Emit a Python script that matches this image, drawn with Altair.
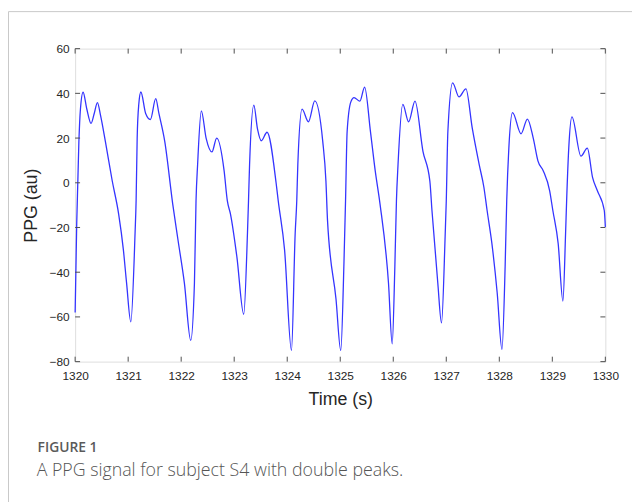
import altair as alt
import pandas as pd

# PPG signal (time in s, amplitude in au)
time_s = [
    1320.00, 1320.03, 1320.07, 1320.10, 1320.15, 1320.22, 1320.30, 1320.36, 1320.42, 1320.48,
    1320.57, 1320.70, 1320.82, 1320.91, 1320.97, 1321.05, 1321.13, 1321.15, 1321.17, 1321.20,
    1321.24, 1321.33, 1321.42, 1321.52, 1321.58, 1321.69, 1321.84, 1321.94, 1322.06, 1322.18,
    1322.25, 1322.28, 1322.31, 1322.38, 1322.47, 1322.58, 1322.67, 1322.81, 1322.87, 1322.93,
    1323.05, 1323.18, 1323.25, 1323.27, 1323.29, 1323.37, 1323.44, 1323.51, 1323.62, 1323.79,
    1323.83, 1323.95, 1324.08, 1324.15, 1324.18, 1324.20, 1324.28, 1324.40, 1324.52, 1324.67,
    1324.73, 1324.76, 1324.92, 1325.01, 1325.07, 1325.10, 1325.13, 1325.20, 1325.26, 1325.37,
    1325.46, 1325.57, 1325.66, 1325.75, 1325.91, 1325.98, 1326.03, 1326.06, 1326.09, 1326.18,
    1326.29, 1326.41, 1326.56, 1326.69, 1326.73, 1326.84, 1326.91, 1326.98, 1327.00, 1327.03,
    1327.12, 1327.24, 1327.37, 1327.49, 1327.62, 1327.71, 1327.77, 1327.86, 1327.96, 1328.05,
    1328.11, 1328.14, 1328.18, 1328.25, 1328.41, 1328.53, 1328.64, 1328.73, 1328.83, 1328.95,
    1329.01, 1329.11, 1329.20, 1329.25, 1329.27, 1329.31, 1329.37, 1329.54, 1329.66, 1329.76,
    1329.85, 1329.98, 1330.00,
]
ppg_au = [
    -58.0, -18.0, 18.0, 33.0, 40.5, 33.0, 26.6, 31.0, 35.9, 30.0,
    18.5, 0.8, -13.9, -30.0, -44.8, -62.2, -22.7, -8.0, 20.0, 35.0,
    40.6, 31.0, 28.3, 37.6, 31.0, 18.5, -9.4, -25.6, -44.8, -70.5,
    -44.8, -8.0, 8.2, 32.2, 20.0, 13.8, 20.0, 5.3, -8.0, -14.0,
    -33.0, -58.8, -22.7, -8.0, 8.2, 34.7, 24.0, 18.8, 22.6, 0.0,
    -8.0, -30.0, -75.0, -22.7, -8.0, 8.2, 32.9, 27.3, 36.6, 18.5,
    0.8, -16.8, -52.0, -75.0, -35.9, -8.0, 22.9, 36.2, 38.1, 36.5,
    42.8, 22.9, 5.3, -9.4, -44.8, -72.0, -37.4, -8.0, 8.2, 35.1,
    27.3, 36.5, 14.1, 0.8, -12.4, -44.8, -62.7, -22.7, -8.0, 22.9,
    44.7, 38.4, 42.0, 24.4, 8.2, -2.1, -12.4, -27.1, -49.2, -74.5,
    -37.4, -8.0, 15.5, 31.4, 21.9, 28.5, 20.0, 9.7, 5.3, -3.6,
    -12.4, -27.1, -52.9, -22.7, -8.0, 15.5, 29.5, 11.9, 15.5, 2.3,
    -3.6, -12.4, -19.8,
]

x_ticks = [1320, 1321, 1322, 1323, 1324, 1325, 1326, 1327, 1328, 1329, 1330]
y_ticks = [-80, -60, -40, -20, 0, 20, 40, 60]

x_title = "Time (s)"
y_title = "PPG (au)"
caption_head = "FIGURE 1"
caption_text = "A PPG signal for subject S4 with double peaks."

W, H = 537, 317
TICK = 5
FONT = "Liberation Sans"
TXT = "#262626"

df = pd.DataFrame({"t": time_s, "v": ppg_au})
xt = pd.DataFrame({"t": x_ticks})
yt = pd.DataFrame({"v": y_ticks})

xscale = alt.Scale(domain=[1320, 1330], nice=False, zero=False)
yscale = alt.Scale(domain=[-80, 60], nice=False, zero=False)

line = alt.Chart(df).mark_line(
    color="#3434ff", strokeWidth=1.3, interpolate="monotone"
).encode(
    x=alt.X("t:Q", scale=xscale,
            axis=alt.Axis(values=x_ticks, format="d", title=x_title, ticks=False,
                          domain=False, grid=False, labelFont=FONT, labelFontSize=12,
                          labelColor=TXT, labelPadding=9, labelFlush=False,
                          labelOverlap=False, titleFont=FONT,
                          titleFontSize=18, titleFontWeight="normal", titleColor=TXT,
                          titlePadding=9)),
    y=alt.Y("v:Q", scale=yscale,
            axis=alt.Axis(values=y_ticks, format="d", title=y_title, ticks=False,
                          domain=False, grid=False, labelFont=FONT, labelFontSize=12,
                          labelColor=TXT, labelPadding=6, labelFlush=False,
                          labelOverlap=False, titleFont=FONT,
                          titleFontSize=18, titleFontWeight="normal", titleColor=TXT,
                          titlePadding=9)),
)

tick_col = "#4d4d4d"
xb = alt.Chart(xt).mark_rule(color=tick_col, strokeWidth=1).encode(
    x=alt.X("t:Q", scale=xscale), y=alt.value(H), y2=alt.value(H - TICK))
xtop = alt.Chart(xt).mark_rule(color=tick_col, strokeWidth=1).encode(
    x=alt.X("t:Q", scale=xscale), y=alt.value(0), y2=alt.value(TICK))
yl = alt.Chart(yt).mark_rule(color=tick_col, strokeWidth=1).encode(
    y=alt.Y("v:Q", scale=yscale), x=alt.value(0), x2=alt.value(TICK))
yr = alt.Chart(yt).mark_rule(color=tick_col, strokeWidth=1).encode(
    y=alt.Y("v:Q", scale=yscale), x=alt.value(W), x2=alt.value(W - TICK))

cap_df = pd.DataFrame({"head": [caption_head], "body": [caption_text]})
cap1 = alt.Chart(cap_df).mark_text(
    align="left", baseline="alphabetic", font="Open Sans", fontSize=14,
    fontWeight=600, color="#5a5a5a"
).encode(text="head:N", x=alt.value(-38), y=alt.value(409))
cap2 = alt.Chart(cap_df).mark_text(
    align="left", baseline="alphabetic", font="Open Sans", fontSize=18,
    fontWeight=300, color="#555555"
).encode(text="body:N", x=alt.value(-39), y=alt.value(433))

border_col = "#c8c8c8"
btop = alt.Chart(cap_df).mark_rule(color=border_col, strokeWidth=1).encode(
    x=alt.value(-67.5), x2=alt.value(570), y=alt.value(-37.5))
bleft = alt.Chart(cap_df).mark_rule(color=border_col, strokeWidth=1).encode(
    x=alt.value(-67.5), y=alt.value(-37.5), y2=alt.value(460))

chart = alt.layer(line, xb, xtop, yl, yr, cap1, cap2, btop, bleft).properties(
    width=W, height=H,
    padding={"left": 68, "top": 38, "right": 27, "bottom": 139},
    autosize=alt.AutoSizeParams(type="none"),
).configure_view(stroke="#4d4d4d", strokeWidth=1).configure(background="white")

chart.save("out.html", embed_options={"renderer": "svg", "actions": False})
